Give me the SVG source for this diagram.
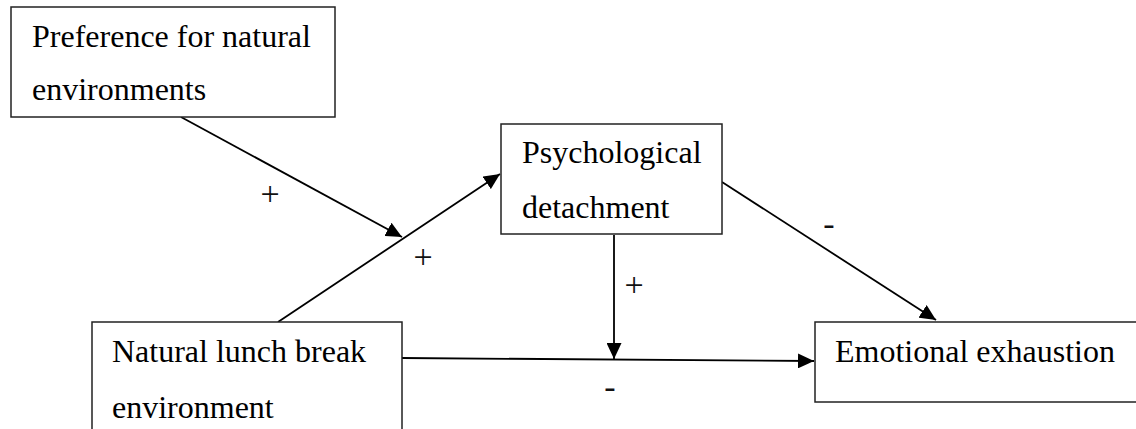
<svg xmlns="http://www.w3.org/2000/svg" width="1136" height="429" viewBox="0 0 1136 429">
<style>
.box{fill:#fff;stroke:#222;stroke-width:1.5}
.t{font-family:"Liberation Serif","Times New Roman",serif;font-size:32px;fill:#000}
.lbl{font-family:"Liberation Serif","Times New Roman",serif;font-size:34px;fill:#111;text-anchor:middle}
.c{stroke:#000;stroke-width:1.8;fill:none;marker-end:url(#ah)}
</style>
<defs>
<marker id="ah" markerUnits="userSpaceOnUse" markerWidth="17" markerHeight="15" refX="16" refY="7.5" orient="auto">
<path d="M0,0 L16,7.5 L0,15 z" fill="#000"/>
</marker>
</defs>
<rect width="1136" height="429" fill="#fff"/>
<g id="connectors">
<line class="c" x1="181" y1="117" x2="402" y2="237"/>
<line class="c" x1="278" y1="322" x2="500" y2="174"/>
<line class="c" x1="722" y1="182" x2="936" y2="320"/>
<line class="c" x1="614" y1="235" x2="614" y2="359"/>
<line class="c" x1="402" y1="358" x2="814" y2="361"/>
</g>
<g id="node-preference">
<rect class="box" x="11" y="7" width="324" height="110"/>
<text class="t" x="32" y="47">Preference for natural</text>
<text class="t" x="32" y="100">environments</text>
</g>
<g id="node-detachment">
<rect class="box" x="501" y="124" width="221" height="110"/>
<text class="t" x="522" y="163">Psychological</text>
<text class="t" x="522" y="218">detachment</text>
</g>
<g id="node-lunch">
<rect class="box" x="92" y="322" width="310" height="120"/>
<text class="t" x="112" y="362">Natural lunch break</text>
<text class="t" x="112" y="418">environment</text>
</g>
<g id="node-exhaustion">
<rect class="box" x="815" y="322" width="330" height="80"/>
<text class="t" x="835" y="362">Emotional exhaustion</text>
</g>
<g id="labels">
<text class="lbl" x="270" y="205">+</text>
<text class="lbl" x="423" y="268">+</text>
<text class="lbl" x="634" y="296">+</text>
<text class="lbl" x="829" y="235">-</text>
<text class="lbl" x="610" y="398">-</text>
</g>
</svg>
